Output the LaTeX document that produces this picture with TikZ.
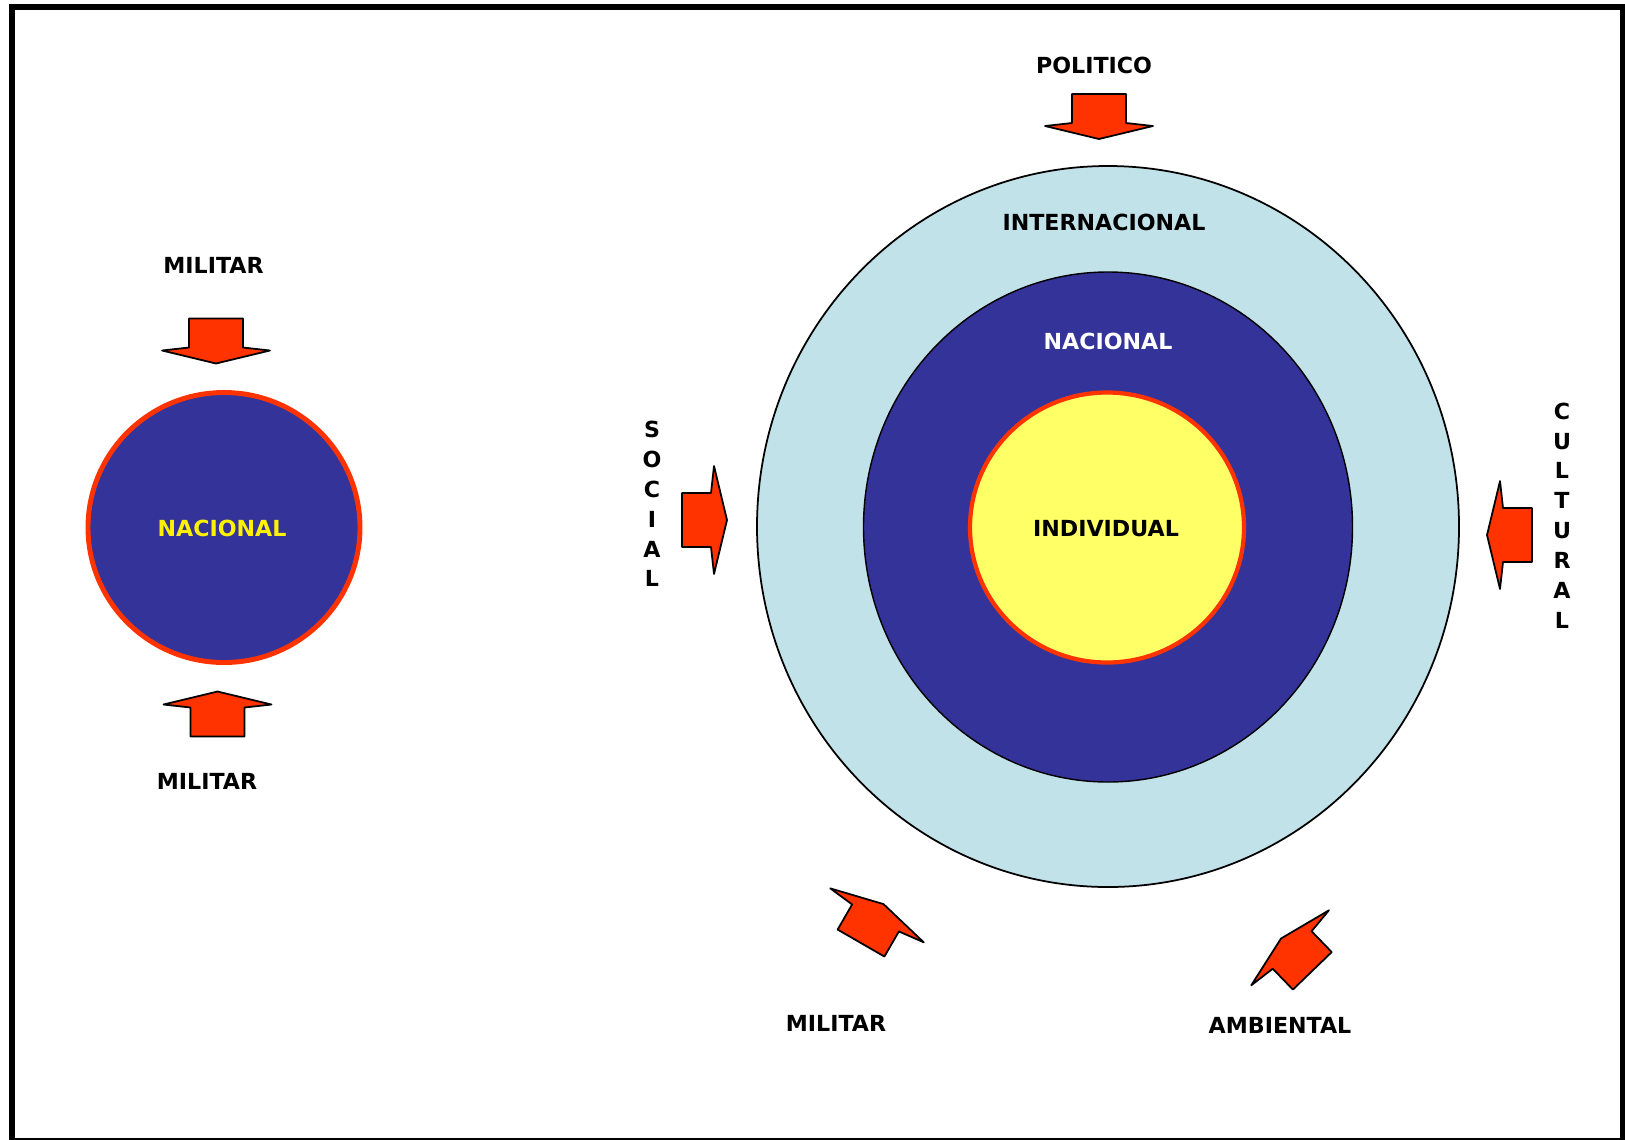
\documentclass[tikz,border=0pt]{standalone}
\usepackage{fontspec}
\setmainfont{DejaVu Sans}
\usepackage{tikz}
\usepackage{xcolor}

\definecolor{azulceleste}{RGB}{192,226,232}
\definecolor{azuloscuro}{RGB}{51,51,153}
\definecolor{amarillo}{RGB}{255,255,102}
\definecolor{rojo}{RGB}{255,51,0}

\tikzset{
  etiqueta/.style={font=\fontsize{6.3}{7.5}\selectfont\bfseries, inner sep=0pt},
  vertical/.style={etiqueta, align=center, font=\fontsize{6.3}{8.5}\selectfont\bfseries},
  pics/fuerza/.style={code={
    \filldraw[fill=rojo, draw=black, line width=0.5pt, line join=round]
      (-22,-27) -- (7,-27) -- (10,-54) -- (23,0) -- (10,54) -- (7,27) -- (-22,27) -- cycle;
  }}
}

\begin{document}
\begin{tikzpicture}[x=0.01cm, y=0.01cm]
                \useasboundingbox (0,0) rectangle (1625,-1139);
                \fill[white] (0,0) rectangle (1625,-1139);
                \draw[black, line width=0.06cm] (12,-7) rectangle (1623,-1141);
                % circulo izquierdo
                \filldraw[fill=azuloscuro, draw=rojo, line width=1.4pt] (224,-527.5) ellipse (136 and 135);
                \node[etiqueta, text=yellow] (nacionalizq) at (222,-528.5) {NACIONAL};
                \node[etiqueta] (militarsup) at (213.5,-265) {MILITAR};
                \node[etiqueta] (militarinf) at (207,-781) {MILITAR};
                \pic[rotate=-90] (flechasup) at (216,-340.5) {fuerza};
                \pic[rotate=90] (flechainf) at (217.5,-714.5) {fuerza};
                % circulos concentricos
                \filldraw[fill=azulceleste, draw=black, line width=0.5pt] (1108,-526.5) ellipse (351 and 360.5);
                \filldraw[fill=azuloscuro, draw=black, line width=0.4pt] (1108,-527) ellipse (244.5 and 255);
                \filldraw[fill=amarillo, draw=rojo, line width=1.2pt] (1107,-527.5) ellipse (137 and 135);
                \node[etiqueta] (internacional) at (1104,-222) {INTERNACIONAL};
                \node[etiqueta, text=white] (nacional) at (1108,-341) {NACIONAL};
                \node[etiqueta] (individual) at (1106,-528.5) {INDIVIDUAL};
                % fuerzas externas
                \node[etiqueta] (politico) at (1094,-65) {POLITICO};
                \pic[rotate=-90] (flechapol) at (1099,-116) {fuerza};
                \node[vertical] (social) at (652,-504) {S\\O\\C\\I\\A\\L};
                \pic[rotate=0] (flechasoc) at (704,-520) {fuerza};
                \node[vertical] (cultural) at (1562,-515.5) {C\\U\\L\\T\\U\\R\\A\\L};
                \pic[rotate=180] (flechacul) at (1510,-535) {fuerza};
                \node[etiqueta] (militar) at (836,-1023) {MILITAR};
                \pic[rotate=60] (flechamil) at (872,-924) {fuerza};
                \node[etiqueta] (ambiental) at (1280,-1025) {AMBIENTAL};
                \pic[rotate=134] (flechaamb) at (1297,-955) {fuerza};
            \end{tikzpicture}
\end{document}
